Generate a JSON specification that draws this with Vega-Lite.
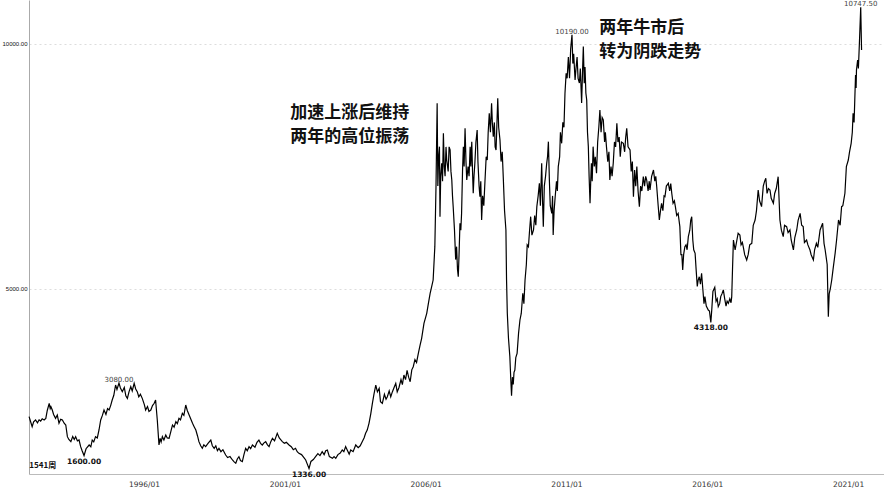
{
  "$schema": "https://vega.github.io/schema/vega-lite/v6.json",
  "width": 855,
  "height": 474,
  "autosize": {"type": "none"},
  "padding": {"left": 29, "top": 0, "right": 0, "bottom": 15},
  "background": "white",
  "config": {"view": {"stroke": null}},
  "layer": [
    {
      "data": {"values": [
        {"d":"1991-12-02","v":2394},{"d":"1991-12-20","v":2300},{"d":"1992-01-11","v":2190},{"d":"1992-01-30","v":2290},{"d":"1992-02-24","v":2326},{"d":"1992-03-20","v":2270},{"d":"1992-04-10","v":2330},{"d":"1992-04-30","v":2305},{"d":"1992-05-20","v":2350},{"d":"1992-06-14","v":2326},{"d":"1992-07-06","v":2360},{"d":"1992-07-25","v":2520},{"d":"1992-08-19","v":2667},{"d":"1992-09-01","v":2560},{"d":"1992-09-10","v":2598},{"d":"1992-09-28","v":2530},{"d":"1992-10-15","v":2440},{"d":"1992-11-10","v":2360},{"d":"1992-12-02","v":2428},{"d":"1992-12-24","v":2258},
        {"d":"1993-01-15","v":2340},{"d":"1993-02-06","v":2326},{"d":"1993-03-01","v":2260},{"d":"1993-03-22","v":2224},{"d":"1993-04-12","v":1986},{"d":"1993-05-01","v":1930},{"d":"1993-05-27","v":1884},{"d":"1993-06-20","v":1990},{"d":"1993-07-10","v":1930},{"d":"1993-07-28","v":1986},{"d":"1993-08-20","v":1900},{"d":"1993-09-10","v":1918},{"d":"1993-10-01","v":1782},{"d":"1993-10-20","v":1700},{"d":"1993-11-14","v":1600},{"d":"1993-12-10","v":1740},
        {"d":"1994-01-19","v":1816},{"d":"1994-02-10","v":1780},{"d":"1994-02-28","v":1918},{"d":"1994-03-20","v":1880},{"d":"1994-04-12","v":1986},{"d":"1994-05-05","v":1960},{"d":"1994-05-27","v":2122},{"d":"1994-06-18","v":2326},{"d":"1994-07-10","v":2420},{"d":"1994-07-31","v":2530},{"d":"1994-08-25","v":2440},{"d":"1994-09-15","v":2560},{"d":"1994-10-05","v":2530},{"d":"1994-10-25","v":2620},{"d":"1994-11-14","v":2734},{"d":"1994-12-05","v":2830},{"d":"1994-12-28","v":3040},
        {"d":"1995-01-15","v":2950},{"d":"1995-02-10","v":3080},{"d":"1995-03-01","v":2980},{"d":"1995-03-25","v":2904},{"d":"1995-04-20","v":2990},{"d":"1995-05-10","v":2820},{"d":"1995-05-30","v":2768},{"d":"1995-06-20","v":2900},{"d":"1995-07-13","v":3006},{"d":"1995-08-01","v":2920},{"d":"1995-08-26","v":3074},{"d":"1995-09-15","v":2960},{"d":"1995-10-05","v":2904},{"d":"1995-10-25","v":2800},{"d":"1995-11-15","v":2850},{"d":"1995-12-09","v":2768},
        {"d":"1996-01-05","v":2640},{"d":"1996-01-22","v":2530},{"d":"1996-02-15","v":2600},{"d":"1996-03-05","v":2500},{"d":"1996-03-29","v":2530},{"d":"1996-04-20","v":2620},{"d":"1996-05-12","v":2667},{"d":"1996-05-30","v":2734},{"d":"1996-06-21","v":2326},{"d":"1996-07-13","v":1816},{"d":"1996-07-28","v":1950},{"d":"1996-08-10","v":1880},{"d":"1996-08-26","v":1986},{"d":"1996-09-15","v":1920},{"d":"1996-10-09","v":2020},{"d":"1996-10-28","v":1960},{"d":"1996-11-21","v":1952},{"d":"1996-12-15","v":2100},
        {"d":"1997-01-04","v":2224},{"d":"1997-01-25","v":2180},{"d":"1997-02-17","v":2292},{"d":"1997-03-08","v":2250},{"d":"1997-03-29","v":2360},{"d":"1997-04-18","v":2330},{"d":"1997-05-12","v":2462},{"d":"1997-06-01","v":2420},{"d":"1997-06-25","v":2632},{"d":"1997-07-15","v":2520},{"d":"1997-08-08","v":2428},{"d":"1997-08-28","v":2350},{"d":"1997-09-21","v":2258},{"d":"1997-10-12","v":2190},{"d":"1997-11-03","v":2122},{"d":"1997-11-25","v":2000},{"d":"1997-12-13","v":1884},
        {"d":"1998-01-05","v":1800},{"d":"1998-01-26","v":1748},{"d":"1998-02-15","v":1820},{"d":"1998-03-10","v":1782},{"d":"1998-04-10","v":1850},{"d":"1998-05-16","v":1918},{"d":"1998-06-05","v":1800},{"d":"1998-06-29","v":1748},{"d":"1998-07-20","v":1800},{"d":"1998-08-10","v":1700},{"d":"1998-08-30","v":1748},{"d":"1998-09-25","v":1680},{"d":"1998-10-20","v":1720},{"d":"1998-11-25","v":1612},{"d":"1998-12-20","v":1560},
        {"d":"1999-01-20","v":1580},{"d":"1999-02-21","v":1510},{"d":"1999-03-15","v":1470},{"d":"1999-04-05","v":1442},{"d":"1999-04-25","v":1530},{"d":"1999-05-16","v":1578},{"d":"1999-06-05","v":1500},{"d":"1999-06-29","v":1476},{"d":"1999-07-20","v":1620},{"d":"1999-08-11","v":1748},{"d":"1999-09-01","v":1700},{"d":"1999-09-24","v":1782},{"d":"1999-10-15","v":1740},{"d":"1999-11-07","v":1816},{"d":"1999-12-10","v":1770},
        {"d":"2000-01-05","v":1870},{"d":"2000-01-30","v":1918},{"d":"2000-02-20","v":1850},{"d":"2000-03-14","v":1816},{"d":"2000-04-05","v":1860},{"d":"2000-04-27","v":1884},{"d":"2000-05-20","v":1820},{"d":"2000-06-10","v":1782},{"d":"2000-07-01","v":1880},{"d":"2000-07-24","v":1952},{"d":"2000-08-20","v":1900},{"d":"2000-09-24","v":2054},{"d":"2000-10-20","v":1960},{"d":"2000-11-29","v":1884},{"d":"2000-12-25","v":1850},
        {"d":"2001-01-20","v":1870},{"d":"2001-02-24","v":1816},{"d":"2001-03-25","v":1780},{"d":"2001-04-20","v":1720},{"d":"2001-05-19","v":1748},{"d":"2001-06-10","v":1680},{"d":"2001-07-02","v":1646},{"d":"2001-08-05","v":1620},{"d":"2001-09-05","v":1560},{"d":"2001-09-28","v":1510},{"d":"2001-10-20","v":1420},{"d":"2001-11-10","v":1336},{"d":"2001-12-05","v":1480},
        {"d":"2002-01-05","v":1520},{"d":"2002-02-03","v":1578},{"d":"2002-03-05","v":1640},{"d":"2002-04-01","v":1600},{"d":"2002-04-30","v":1680},{"d":"2002-05-25","v":1620},{"d":"2002-06-15","v":1700},{"d":"2002-07-06","v":1714},{"d":"2002-08-01","v":1580},{"d":"2002-09-10","v":1544},{"d":"2002-10-01","v":1580},{"d":"2002-10-23","v":1544},{"d":"2002-11-20","v":1620},{"d":"2002-12-20","v":1650},
        {"d":"2003-01-15","v":1714},{"d":"2003-02-05","v":1680},{"d":"2003-02-28","v":1782},{"d":"2003-03-25","v":1700},{"d":"2003-04-15","v":1630},{"d":"2003-05-05","v":1714},{"d":"2003-06-05","v":1680},{"d":"2003-07-09","v":1816},{"d":"2003-08-10","v":1760},{"d":"2003-09-05","v":1800},{"d":"2003-10-01","v":1884},{"d":"2003-10-25","v":1960},{"d":"2003-11-14","v":2054},{"d":"2003-12-05","v":2120},{"d":"2003-12-28","v":2258},
        {"d":"2004-01-20","v":2450},{"d":"2004-02-10","v":2667},{"d":"2004-03-01","v":2850},{"d":"2004-03-25","v":3040},{"d":"2004-04-15","v":2900},{"d":"2004-05-08","v":2972},{"d":"2004-05-25","v":2700},{"d":"2004-06-18","v":2667},{"d":"2004-07-15","v":2850},{"d":"2004-08-05","v":2750},{"d":"2004-08-22","v":2802},{"d":"2004-09-15","v":2920},{"d":"2004-10-05","v":2800},{"d":"2004-10-27","v":2904},{"d":"2004-11-20","v":3000},{"d":"2004-12-09","v":3074},{"d":"2004-12-28","v":2900},
        {"d":"2005-01-20","v":2990},{"d":"2005-02-15","v":3150},{"d":"2005-03-05","v":3050},{"d":"2005-03-25","v":3244},{"d":"2005-04-15","v":3150},{"d":"2005-05-05","v":3340},{"d":"2005-05-25","v":3200},{"d":"2005-06-14","v":3108},{"d":"2005-07-05","v":3350},{"d":"2005-07-24","v":3414},{"d":"2005-08-15","v":3560},{"d":"2005-09-05","v":3500},{"d":"2005-09-28","v":3686},{"d":"2005-10-20","v":3850},{"d":"2005-11-10","v":3993},{"d":"2005-12-10","v":4300},
        {"d":"2006-01-15","v":4503},{"d":"2006-02-05","v":4700},{"d":"2006-02-28","v":4912},{"d":"2006-03-20","v":5050},{"d":"2006-04-08","v":5183},{"d":"2006-04-30","v":5864},{"d":"2006-05-15","v":7088},{"d":"2006-05-30","v":8790},{"d":"2006-06-08","v":7100},{"d":"2006-06-18","v":7700},{"d":"2006-06-29","v":7905},{"d":"2006-07-06","v":6476},{"d":"2006-07-15","v":7300},{"d":"2006-07-28","v":7565},{"d":"2006-08-08","v":7200},{"d":"2006-08-19","v":8177},{"d":"2006-08-30","v":7500},{"d":"2006-09-10","v":7300},{"d":"2006-09-22","v":7900},{"d":"2006-10-01","v":7632},{"d":"2006-10-20","v":7400},{"d":"2006-11-01","v":7900},{"d":"2006-11-14","v":7837},{"d":"2006-11-25","v":7400},{"d":"2006-12-06","v":7224},{"d":"2006-12-15","v":6900},{"d":"2006-12-24","v":6680},
        {"d":"2007-01-10","v":6200},{"d":"2007-01-25","v":5600},{"d":"2007-02-06","v":5864},{"d":"2007-02-18","v":5400},{"d":"2007-02-28","v":5251},{"d":"2007-03-10","v":5700},{"d":"2007-03-22","v":6340},{"d":"2007-04-02","v":6200},{"d":"2007-04-12","v":6544},{"d":"2007-04-24","v":7400},{"d":"2007-05-05","v":7905},{"d":"2007-05-15","v":7500},{"d":"2007-05-27","v":8279},{"d":"2007-06-08","v":7600},{"d":"2007-06-18","v":7224},{"d":"2007-07-05","v":7500},{"d":"2007-07-18","v":7300},{"d":"2007-08-01","v":7905},{"d":"2007-08-10","v":7500},{"d":"2007-08-22","v":8007},{"d":"2007-09-01","v":7400},{"d":"2007-09-10","v":6953},{"d":"2007-09-20","v":7300},{"d":"2007-10-01","v":7565},{"d":"2007-10-15","v":8000},{"d":"2007-10-31","v":8245},{"d":"2007-11-10","v":7600},{"d":"2007-11-25","v":7100},{"d":"2007-12-06","v":6884},{"d":"2007-12-17","v":7200},{"d":"2007-12-28","v":6408},
        {"d":"2008-01-10","v":6900},{"d":"2008-01-25","v":6700},{"d":"2008-02-10","v":7224},{"d":"2008-02-25","v":7700},{"d":"2008-03-10","v":7632},{"d":"2008-03-22","v":8200},{"d":"2008-04-05","v":8586},{"d":"2008-04-20","v":8200},{"d":"2008-05-05","v":8790},{"d":"2008-05-15","v":8400},{"d":"2008-05-27","v":8108},{"d":"2008-06-10","v":8400},{"d":"2008-06-20","v":7900},{"d":"2008-07-02","v":7837},{"d":"2008-07-12","v":8300},{"d":"2008-07-24","v":8892},{"d":"2008-08-05","v":8300},{"d":"2008-08-22","v":8041},{"d":"2008-09-05","v":7600},{"d":"2008-09-20","v":7800},{"d":"2008-10-05","v":7224},{"d":"2008-10-20","v":6600},{"d":"2008-11-07","v":6204},{"d":"2008-11-15","v":5200},{"d":"2008-11-25","v":4503},{"d":"2008-12-10","v":4000},{"d":"2008-12-28","v":3618},
        {"d":"2009-01-08","v":3200},{"d":"2009-01-19","v":2820},{"d":"2009-01-30","v":3200},{"d":"2009-02-10","v":3050},{"d":"2009-02-20","v":3300},{"d":"2009-03-03","v":3346},{"d":"2009-03-15","v":3600},{"d":"2009-04-01","v":3686},{"d":"2009-04-20","v":4100},{"d":"2009-05-08","v":4367},{"d":"2009-05-25","v":4500},{"d":"2009-06-14","v":4912},{"d":"2009-06-28","v":4700},{"d":"2009-07-13","v":5183},{"d":"2009-07-30","v":5500},{"d":"2009-08-10","v":5900},{"d":"2009-08-26","v":5864},{"d":"2009-09-10","v":6200},{"d":"2009-09-24","v":6476},{"d":"2009-10-10","v":6100},{"d":"2009-10-31","v":6204},{"d":"2009-11-15","v":6500},{"d":"2009-11-30","v":6300},{"d":"2009-12-13","v":6680},{"d":"2009-12-30","v":6900},
        {"d":"2010-01-15","v":7157},{"d":"2010-01-28","v":6700},{"d":"2010-02-14","v":7565},{"d":"2010-02-25","v":6800},{"d":"2010-03-07","v":6272},{"d":"2010-03-20","v":7100},{"d":"2010-04-05","v":7300},{"d":"2010-04-20","v":7565},{"d":"2010-05-01","v":7700},{"d":"2010-05-12","v":8007},{"d":"2010-05-25","v":7200},{"d":"2010-06-05","v":6700},{"d":"2010-06-25","v":6544},{"d":"2010-07-05","v":6900},{"d":"2010-07-13","v":6102},{"d":"2010-07-25","v":6600},{"d":"2010-08-08","v":6884},{"d":"2010-08-25","v":7200},{"d":"2010-09-05","v":7000},{"d":"2010-09-17","v":7497},{"d":"2010-10-05","v":7700},{"d":"2010-10-15","v":8200},{"d":"2010-10-31","v":7973},{"d":"2010-11-15","v":8400},{"d":"2010-11-30","v":8300},{"d":"2010-12-13","v":8994},{"d":"2010-12-28","v":9400},
        {"d":"2011-01-10","v":9300},{"d":"2011-01-26","v":9735},{"d":"2011-02-10","v":9300},{"d":"2011-02-25","v":9900},{"d":"2011-03-14","v":10190},{"d":"2011-03-25","v":9600},{"d":"2011-04-05","v":9800},{"d":"2011-04-23","v":9265},{"d":"2011-05-05","v":9500},{"d":"2011-05-19","v":9735},{"d":"2011-06-01","v":9300},{"d":"2011-06-18","v":9204},{"d":"2011-06-30","v":9500},{"d":"2011-07-17","v":8796},{"d":"2011-07-28","v":9400},{"d":"2011-08-08","v":9950},{"d":"2011-08-20","v":9200},{"d":"2011-08-30","v":9531},{"d":"2011-09-10","v":9000},{"d":"2011-09-21","v":8857},{"d":"2011-10-01","v":8200},{"d":"2011-10-12","v":7905},{"d":"2011-10-22","v":7300},{"d":"2011-11-03","v":6748},{"d":"2011-11-12","v":7200},{"d":"2011-11-21","v":7565},{"d":"2011-12-01","v":7200},{"d":"2011-12-13","v":7905},{"d":"2011-12-28","v":7500},
        {"d":"2012-01-10","v":7700},{"d":"2012-01-26","v":7361},{"d":"2012-02-10","v":8000},{"d":"2012-02-25","v":8300},{"d":"2012-03-10","v":8653},{"d":"2012-03-25","v":8200},{"d":"2012-04-08","v":8500},{"d":"2012-04-23","v":8449},{"d":"2012-05-10","v":8000},{"d":"2012-05-20","v":8200},{"d":"2012-06-03","v":7905},{"d":"2012-06-20","v":7600},{"d":"2012-07-05","v":7800},{"d":"2012-07-17","v":7224},{"d":"2012-08-01","v":7500},{"d":"2012-08-15","v":7300},{"d":"2012-08-30","v":7565},{"d":"2012-09-15","v":8000},{"d":"2012-09-30","v":7900},{"d":"2012-10-16","v":8381},{"d":"2012-10-30","v":8000},{"d":"2012-11-15","v":8100},{"d":"2012-11-29","v":7700},{"d":"2012-12-15","v":8000},
        {"d":"2013-01-08","v":7973},{"d":"2013-01-25","v":7800},{"d":"2013-02-08","v":8100},{"d":"2013-02-21","v":8279},{"d":"2013-03-10","v":7900},{"d":"2013-04-05","v":7837},{"d":"2013-04-20","v":7400},{"d":"2013-05-05","v":7600},{"d":"2013-05-19","v":6884},{"d":"2013-06-03","v":7428},{"d":"2013-06-18","v":7100},{"d":"2013-07-02","v":7497},{"d":"2013-07-18","v":7000},{"d":"2013-08-04","v":6680},{"d":"2013-08-20","v":7100},{"d":"2013-09-05","v":7000},{"d":"2013-09-24","v":7292},{"d":"2013-10-10","v":7100},{"d":"2013-10-25","v":7300},{"d":"2013-11-07","v":7224},{"d":"2013-11-25","v":7000},{"d":"2013-12-10","v":7200},{"d":"2013-12-20","v":7020},
        {"d":"2014-01-10","v":7300},{"d":"2014-02-03","v":7428},{"d":"2014-02-20","v":7200},{"d":"2014-03-05","v":7300},{"d":"2014-03-17","v":7088},{"d":"2014-04-05","v":6700},{"d":"2014-04-20","v":6408},{"d":"2014-05-05","v":6600},{"d":"2014-05-19","v":6748},{"d":"2014-06-05","v":6600},{"d":"2014-06-20","v":6900},{"d":"2014-07-02","v":6884},{"d":"2014-07-20","v":7100},{"d":"2014-08-15","v":7157},{"d":"2014-09-01","v":7000},{"d":"2014-09-15","v":7150},{"d":"2014-09-28","v":6953},{"d":"2014-10-15","v":6750},{"d":"2014-11-01","v":6800},{"d":"2014-11-14","v":6680},{"d":"2014-12-01","v":6500},{"d":"2014-12-20","v":6544},
        {"d":"2015-01-11","v":6272},{"d":"2015-01-25","v":5700},{"d":"2015-02-06","v":5700},{"d":"2015-02-17","v":5387},{"d":"2015-03-01","v":5700},{"d":"2015-03-17","v":5864},{"d":"2015-04-01","v":5900},{"d":"2015-04-15","v":5800},{"d":"2015-05-01","v":6068},{"d":"2015-05-20","v":6200},{"d":"2015-06-01","v":6400},{"d":"2015-06-14","v":6476},{"d":"2015-06-28","v":6000},{"d":"2015-07-10","v":5800},{"d":"2015-07-28","v":5728},{"d":"2015-08-10","v":5400},{"d":"2015-08-25","v":5050},{"d":"2015-09-06","v":5183},{"d":"2015-09-20","v":5250},{"d":"2015-10-05","v":5100},{"d":"2015-10-20","v":5320},{"d":"2015-11-05","v":5000},{"d":"2015-11-20","v":4700},{"d":"2015-12-02","v":4843},{"d":"2015-12-20","v":4650},
        {"d":"2016-01-15","v":4571},{"d":"2016-01-30","v":4550},{"d":"2016-02-17","v":4318},{"d":"2016-03-01","v":4600},{"d":"2016-03-15","v":4950},{"d":"2016-04-08","v":5034},{"d":"2016-04-25","v":4750},{"d":"2016-05-10","v":4800},{"d":"2016-05-23","v":4639},{"d":"2016-06-10","v":4700},{"d":"2016-06-25","v":4850},{"d":"2016-07-10","v":4900},{"d":"2016-07-28","v":4980},{"d":"2016-08-15","v":4800},{"d":"2016-09-01","v":4650},{"d":"2016-09-15","v":4750},{"d":"2016-10-01","v":4707},{"d":"2016-10-20","v":4800},{"d":"2016-11-05","v":4720},{"d":"2016-11-14","v":4843},{"d":"2016-11-25","v":5455},{"d":"2016-12-06","v":6000},{"d":"2016-12-28","v":5800},
        {"d":"2017-01-20","v":6000},{"d":"2017-02-05","v":6136},{"d":"2017-02-28","v":6100},{"d":"2017-03-15","v":5900},{"d":"2017-04-01","v":5950},{"d":"2017-04-12","v":5864},{"d":"2017-05-01","v":5700},{"d":"2017-05-27","v":5592},{"d":"2017-06-15","v":5700},{"d":"2017-07-05","v":5900},{"d":"2017-08-01","v":5932},{"d":"2017-08-20","v":6300},{"d":"2017-09-13","v":6408},{"d":"2017-10-01","v":6600},{"d":"2017-10-23","v":7020},{"d":"2017-11-10","v":6800},{"d":"2017-12-06","v":6680},{"d":"2017-12-28","v":7100},
        {"d":"2018-01-15","v":7200},{"d":"2018-01-30","v":7259},{"d":"2018-02-15","v":6950},{"d":"2018-03-05","v":7050},{"d":"2018-03-25","v":7020},{"d":"2018-04-10","v":6850},{"d":"2018-05-08","v":6748},{"d":"2018-05-25","v":6950},{"d":"2018-06-15","v":7050},{"d":"2018-07-09","v":7292},{"d":"2018-08-01","v":6408},{"d":"2018-08-20","v":6200},{"d":"2018-09-13","v":6068},{"d":"2018-09-30","v":6300},{"d":"2018-10-27","v":6272},{"d":"2018-11-15","v":6150},{"d":"2018-12-09","v":6204},{"d":"2018-12-25","v":6000},
        {"d":"2019-01-23","v":5796},{"d":"2019-02-10","v":6050},{"d":"2019-03-07","v":6204},{"d":"2019-03-25","v":6400},{"d":"2019-04-20","v":6544},{"d":"2019-05-10","v":6300},{"d":"2019-05-30","v":6272},{"d":"2019-06-15","v":5950},{"d":"2019-07-13","v":6000},{"d":"2019-07-30","v":5900},{"d":"2019-08-26","v":5796},{"d":"2019-09-10","v":5700},{"d":"2019-10-09","v":5592},{"d":"2019-10-25","v":5800},{"d":"2019-11-17","v":5932},{"d":"2019-12-05","v":5850},
        {"d":"2020-01-04","v":6204},{"d":"2020-02-06","v":6340},{"d":"2020-02-24","v":5932},{"d":"2020-03-10","v":5796},{"d":"2020-04-05","v":5500},{"d":"2020-04-20","v":4435},{"d":"2020-05-01","v":4900},{"d":"2020-05-15","v":5000},{"d":"2020-06-03","v":5183},{"d":"2020-06-20","v":5400},{"d":"2020-07-17","v":5728},{"d":"2020-08-05","v":6000},{"d":"2020-08-30","v":6408},{"d":"2020-09-20","v":6300},{"d":"2020-10-09","v":6680},{"d":"2020-10-25","v":6700},{"d":"2020-11-21","v":6953},{"d":"2020-12-10","v":7500},
        {"d":"2021-01-04","v":7632},{"d":"2021-01-20","v":7800},{"d":"2021-02-10","v":7973},{"d":"2021-02-25","v":8200},{"d":"2021-03-07","v":8586},{"d":"2021-03-20","v":8400},{"d":"2021-03-29","v":8857},{"d":"2021-04-08","v":9367},{"d":"2021-04-15","v":9100},{"d":"2021-04-20","v":9469},{"d":"2021-05-05","v":9673},{"d":"2021-05-15","v":9500},{"d":"2021-05-27","v":9980},{"d":"2021-06-14","v":10747.5},{"d":"2021-06-25","v":9878}
      ]},
      "mark": {"type": "line", "color": "#000000", "strokeWidth": 1.2},
      "encoding": {
        "x": {"field": "d", "type": "temporal",
          "scale": {"domain": ["1991-12-01", "2022-04-12"], "nice": false},
          "axis": {"title": null, "values": ["1996-01-01", "2001-01-01", "2006-01-01", "2011-01-01", "2016-01-01", "2021-01-01"],
            "format": "%Y/%m", "labelFontSize": 7.5, "labelColor": "#333", "labelFont": "DejaVu Sans", "ticks": false,
            "domainColor": "#bbbbbb", "labelPadding": 6, "grid": false}},
        "y": {"field": "v", "type": "quantitative",
          "scale": {"domain": [1224, 10898], "nice": false, "zero": false},
          "axis": {"title": null, "values": [5000, 10000], "format": ".2f", "labelFontSize": 6, "labelColor": "#111",
            "labelFont": "Liberation Sans", "ticks": false, "domainColor": "#aaaaaa", "labelPadding": 2,
            "grid": true, "gridColor": "#dddddd", "gridDash": [2, 3]}}
      }
    },
    {
      "data": {"values": [
        {"d":"1995-02-10","v":3080,"t":"3080.00"},
        {"d":"2011-03-14","v":10190,"t":"10190.00"},
        {"d":"2021-06-14","v":10747.5,"t":"10747.50"}
      ]},
      "mark": {"type": "text", "fontSize": 7, "font": "DejaVu Sans", "color": "#444", "baseline": "bottom", "dy": 0},
      "encoding": {
        "x": {"field": "d", "type": "temporal"},
        "y": {"field": "v", "type": "quantitative"},
        "text": {"field": "t"}
      }
    },
    {
      "data": {"values": [
        {"d":"1993-11-14","v":1600,"t":"1600.00"},
        {"d":"2001-11-10","v":1336,"t":"1336.00"},
        {"d":"2016-02-17","v":4318,"t":"4318.00"}
      ]},
      "mark": {"type": "text", "fontSize": 7.5, "font": "DejaVu Sans", "fontWeight": "bold", "color": "#111", "baseline": "top", "dy": 2},
      "encoding": {
        "x": {"field": "d", "type": "temporal"},
        "y": {"field": "v", "type": "quantitative"},
        "text": {"field": "t"}
      }
    },
    {
      "data": {"values": [
        {"d":"1991-12-05","v":1300,"t":"1541周"}
      ]},
      "mark": {"type": "text", "fontSize": 8, "font": "Noto Sans CJK SC", "fontWeight": "bold", "color": "#111", "align": "left", "baseline": "bottom"},
      "encoding": {
        "x": {"field": "d", "type": "temporal"},
        "y": {"field": "v", "type": "quantitative"},
        "text": {"field": "t"}
      }
    },
    {
      "data": {"values": [
        {"d":"2001-03-10","v":8592,"t":"加速上涨后维持"},
        {"d":"2001-03-10","v":8102,"t":"两年的高位振荡"},
        {"d":"2012-03-01","v":10327,"t":"两年牛市后"},
        {"d":"2012-03-01","v":9837,"t":"转为阴跌走势"}
      ]},
      "mark": {"type": "text", "fontSize": 17, "font": "Noto Sans CJK SC", "fontWeight": "bold", "color": "#111", "align": "left", "baseline": "middle"},
      "encoding": {
        "x": {"field": "d", "type": "temporal"},
        "y": {"field": "v", "type": "quantitative"},
        "text": {"field": "t"}
      }
    }
  ]
}
